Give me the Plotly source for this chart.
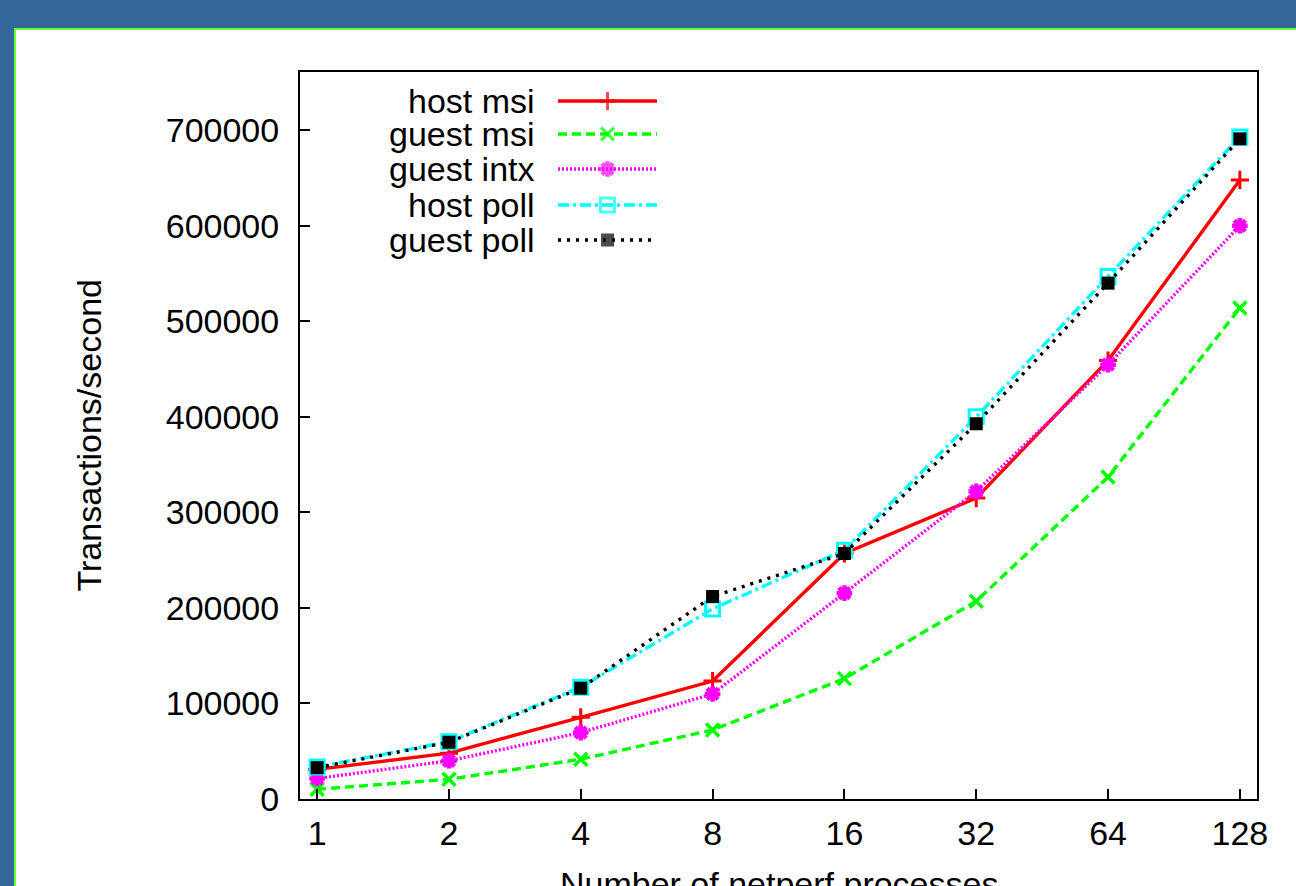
import math
import plotly.graph_objects as go

# Netperf transaction rates vs. number of netperf processes
processes = [1, 2, 4, 8, 16, 32, 64, 128]
tick_labels = ["1", "2", "4", "8", "16", "32", "64", "128"]

host_msi = [31000, 48000, 85500, 123500, 257000, 315000, 459000, 648000]
guest_msi = [10200, 20600, 41600, 72300, 126000, 207000, 337000, 514000]
guest_intx = [21500, 40000, 69500, 110000, 215500, 322000, 454600, 600000]
host_poll = [33500, 60000, 117000, 199000, 260500, 400000, 547000, 693000]
guest_poll = [32800, 59400, 116000, 212000, 257000, 392800, 540000, 691000]

series_names = ["host msi", "guest msi", "guest intx", "host poll", "guest poll"]
series_values = [host_msi, guest_msi, guest_intx, host_poll, guest_poll]

y_ticks = [0, 100000, 200000, 300000, 400000, 500000, 600000, 700000]

# ---- page geometry (pixels) ----
W, H = 1296, 886
PL, PR, PT, PB = 300, 1257, 72, 799          # plot-area box
PW, PH = PR - PL, PB - PT

def px_x(x):
    return (x - PL) / PW

def px_y(y):
    return (PB - y) / PH

FONT = "Liberation Sans, Arial, Helvetica, sans-serif"
FS = 34
KEY_FS = 34

styles = [
    dict(line=dict(color="#ff0000", width=3.4, dash="solid"),
         marker=dict(symbol="cross-thin-open", size=13,
                     color="#ff0000", line=dict(color="#ff0000", width=3))),
    dict(line=dict(color="#00ff00", width=3.4, dash="9px,5px"),
         marker=dict(symbol="x-thin-open", size=13,
                     color="#00ff00", line=dict(color="#00ff00", width=3.5))),
    dict(line=dict(color="#ff00ff", width=3.4, dash="2px,2px"),
         marker=dict(symbol="asterisk-open", size=13,
                     color="#ff00ff", line=dict(color="#ff00ff", width=4.5))),
    dict(line=dict(color="#00ffff", width=3.4, dash="11px,4px,3px,4px"),
         marker=dict(symbol="square-open", size=14,
                     color="#00ffff", line=dict(color="#00ffff", width=3))),
    dict(line=dict(color="#000000", width=3.4, dash="3px,6px"),
         marker=dict(symbol="square", size=13,
                     color="#000000", line=dict(color="#000000", width=0))),
]

fig = go.Figure()

for name, vals, st in zip(series_names, series_values, styles):
    fig.add_trace(go.Scatter(
        x=processes, y=vals, name=name, mode="lines+markers",
        line=st["line"], marker=st["marker"], showlegend=False,
        cliponaxis=False,
    ))

# ---- key: label on the left, line sample with symbol on the right ----
key_rows_px = [101, 134, 169, 205, 240]
key_text_right_px = 536
key_sample_px = (558, 657)
ks0, ks1 = px_x(key_sample_px[0]), px_x(key_sample_px[1])
ksm = (ks0 + ks1) / 2

annotations = []
for name, st, ypx in zip(series_names, styles, key_rows_px):
    yy = px_y(ypx)
    fig.add_trace(go.Scatter(
        x=[ks0, ksm, ks1], y=[yy, yy, yy], mode="lines+markers",
        xaxis="x2", yaxis="y2", showlegend=False, hoverinfo="skip",
        line=st["line"],
        marker=dict(st["marker"], size=[0, st["marker"]["size"], 0]),
        cliponaxis=False,
    ))
    annotations.append(dict(
        x=px_x(key_text_right_px), y=yy, xref="paper", yref="paper",
        xanchor="right", yanchor="middle", showarrow=False, text=name,
        borderpad=0,
        font=dict(family=FONT, size=KEY_FS, color="black"),
    ))

# axis titles
annotations.append(dict(
    x=px_x(88), y=0.5, xref="paper", yref="paper", textangle=-90,
    xanchor="center", yanchor="middle", showarrow=False,
    text="Transactions/second",
    font=dict(family=FONT, size=FS, color="black"),
))
annotations.append(dict(
    x=0.5, y=px_y(863), xref="paper", yref="paper",
    xanchor="center", yanchor="top", showarrow=False,
    text="Number of netperf processes",
    font=dict(family=FONT, size=FS, color="black"),
))

log2 = math.log10(2)
pad = 0.13

fig.update_layout(
    width=W, height=H,
    margin=dict(l=PL, r=W - PR, t=PT, b=H - PB, pad=0),
    paper_bgcolor="#336699",
    plot_bgcolor="white",
    font=dict(family=FONT, size=FS, color="black"),
    showlegend=False,
    annotations=annotations,
    shapes=[dict(
        type="rect", xref="paper", yref="paper", layer="below",
        x0=px_x(15), x1=px_x(W + 20), y0=px_y(H + 20), y1=px_y(29),
        fillcolor="white", line=dict(color="#66ff33", width=2),
    )],
    xaxis=dict(
        type="log",
        range=[-pad * log2, (7 + pad) * log2],
        tickvals=processes, ticktext=tick_labels,
        ticks="inside", ticklen=10, tickwidth=2, tickcolor="black",
        showline=True, linewidth=2, linecolor="black", mirror=True,
        showgrid=False, zeroline=False,
        ticklabelstandoff=3,
        tickfont=dict(family=FONT, size=FS, color="black"),
    ),
    yaxis=dict(
        range=[0, 761000],
        tickvals=y_ticks, ticktext=[str(v) for v in y_ticks],
        ticks="inside", ticklen=10, tickwidth=2, tickcolor="black",
        showline=True, linewidth=2, linecolor="black", mirror=True,
        showgrid=False, zeroline=False,
        ticklabelstandoff=12,
        tickfont=dict(family=FONT, size=FS, color="black"),
    ),
    xaxis2=dict(overlaying="x", range=[0, 1], visible=False, fixedrange=True),
    yaxis2=dict(overlaying="y", range=[0, 1], visible=False, fixedrange=True),
)

fig.write_html("out.html")
